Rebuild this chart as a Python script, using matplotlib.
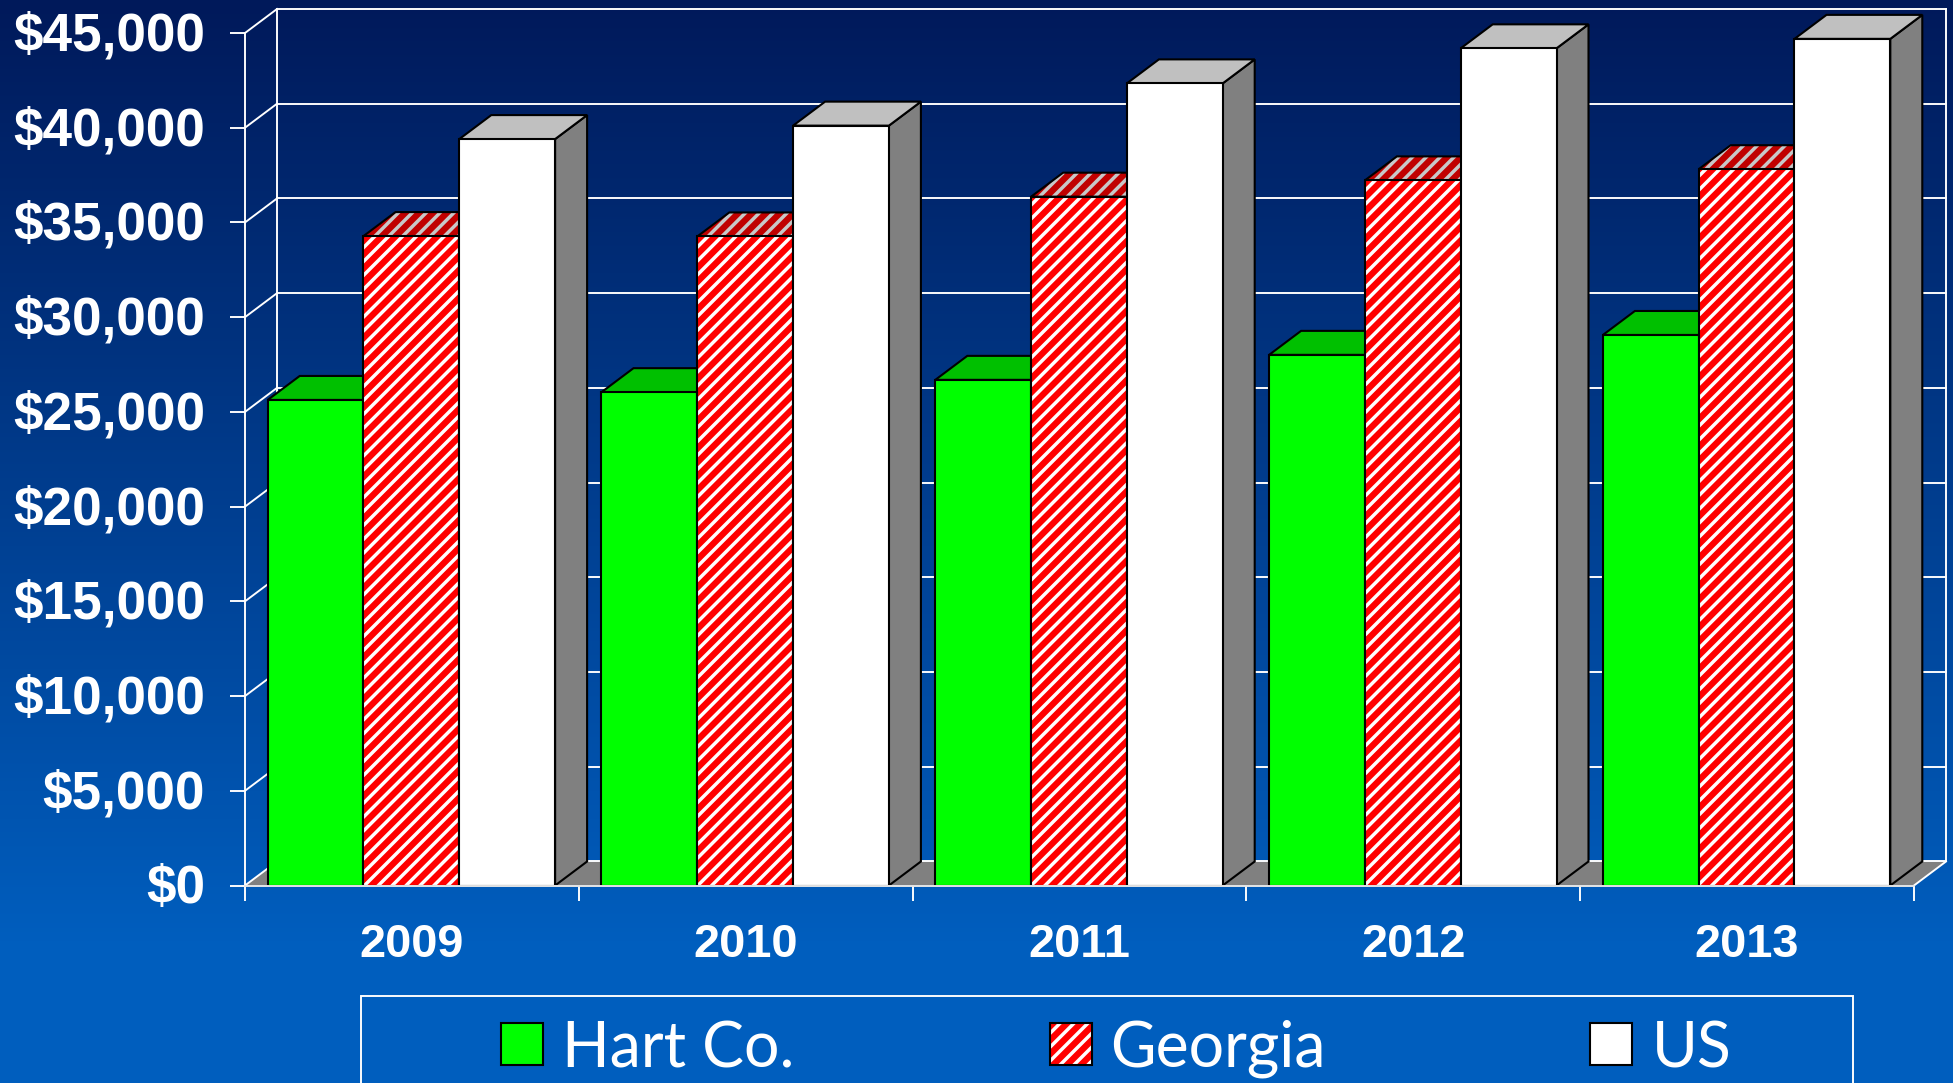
import numpy as np
import matplotlib
matplotlib.use("Agg")
import matplotlib.pyplot as plt
from matplotlib.patches import Rectangle
from matplotlib.transforms import ScaledTranslation

plt.rcParams["font.family"] = ["Liberation Sans", "DejaVu Sans"]
plt.rcParams["hatch.linewidth"] = 2.0

years = ["2009", "2010", "2011", "2012", "2013"]
series = ["Hart Co.", "Georgia", "US"]
hart = [25630, 26040, 26690, 28010, 29060]
georgia = [34280, 34260, 36360, 37220, 37810]
us = [39400, 40110, 42340, 44190, 44690]
y_ticks = [0, 5000, 10000, 15000, 20000, 25000, 30000, 35000, 40000, 45000]
y_labels = ["$0", "$5,000", "$10,000", "$15,000", "$20,000", "$25,000", "$30,000", "$35,000", "$40,000", "$45,000"]

W, H = 1953, 1083
DPI = 125

# look of each series: front, hatch, top, top hatch, side
styles = [
    ("#00FF00", None, "#00C000", None, "#00C000"),
    ("#FF0000", "#FFFFFF", "#C00000", "#C8C8C8", "#C00000"),
    ("#FFFFFF", None, "#C0C0C0", None, "#808080"),
]

# depth of the fake 3d box, in data units
dx = 32 / 333.8
dy = 1267
margin = 0.068
bar_w = 0.287

fig = plt.figure(figsize=(W / DPI, H / DPI), dpi=DPI)

# background gradient
bg = fig.add_axes([0, 0, 1, 1], zorder=-1)
top = np.array([0, 25, 90]) / 255
bottom = np.array([0, 94, 190]) / 255
t = np.clip(np.linspace(0, 1.15, H), 0, 1)[:, None, None]
bg.imshow(top + (bottom - top) * t, aspect="auto")
bg.axis("off")

ax = fig.add_axes([245 / W, 1 - 885.5 / H, (1914 - 245) / W, (885.5 - 33) / H])
ax.patch.set_alpha(0)
ax.set_xlim(0, 5)
ax.set_ylim(0, 45000)

# floor
ax.fill([0, 5, 5 + dx, dx], [0, 0, dy, dy], facecolor="#808080", edgecolor="none", clip_on=False, zorder=1)

# walls
for v in y_ticks:
    ax.plot([0, dx], [v, v + dy], color="white", lw=1.1, clip_on=False, zorder=2)
    ax.plot([dx, 5 + dx], [v + dy, v + dy], color="white", lw=1.1, clip_on=False, zorder=2)
ax.plot([dx, dx], [dy, 45000 + dy], color="white", lw=1.1, clip_on=False, zorder=2)
ax.plot([5 + dx, 5 + dx], [dy, 45000 + dy], color="white", lw=1.1, clip_on=False, zorder=2)
ax.plot([5, 5 + dx], [0, dy], color="white", lw=1.1, clip_on=False, zorder=2)

# bars, left to right so each one covers the previous
z = 3
for i in range(len(years)):
    for j, values in enumerate([hart, georgia, us]):
        front, front_h, top_c, top_h, side = styles[j]
        x0 = i + margin + j * bar_w
        x1 = x0 + bar_w
        v = values[i]
        side_x = [x1, x1 + dx, x1 + dx, x1]
        side_y = [0, dy, v + dy, v]
        top_x = [x0, x1, x1 + dx, x0 + dx]
        top_y = [v, v, v + dy, v + dy]
        ax.fill(side_x, side_y, facecolor=side, edgecolor="black", lw=1.2, clip_on=False, zorder=z)
        ax.fill(top_x, top_y, facecolor=top_c, edgecolor="none", lw=0, clip_on=False, zorder=z)
        if top_h:
            ax.fill(top_x, top_y, facecolor="none", edgecolor=top_h, hatch="///", lw=0, clip_on=False, zorder=z)
        ax.fill(top_x, top_y, facecolor="none", edgecolor="black", lw=1.2, clip_on=False, zorder=z)
        ax.bar(x0, v, bar_w, align="edge", color=front, lw=0, zorder=z)
        if front_h:
            ax.bar(x0, v, bar_w, align="edge", facecolor="none", edgecolor=front_h, hatch="///", lw=0, zorder=z)
        ax.bar(x0, v, bar_w, align="edge", facecolor="none", edgecolor="black", lw=1.2, zorder=z)
        z += 1

# axes
for s in ["top", "right"]:
    ax.spines[s].set_visible(False)
for s in ["left", "bottom"]:
    ax.spines[s].set_color("#E8E8E8")
    ax.spines[s].set_linewidth(1.1)
    ax.spines[s].set_zorder(z)
ax.spines["left"].set_color("white")
ax.spines["left"].set_zorder(2)

ax.set_yticks(y_ticks, y_labels)
ax.tick_params(axis="y", length=8.6, width=1.1, color="white", pad=14.5, labelcolor="white", labelsize=30.6)
up = ScaledTranslation(0, 2 / DPI, fig.dpi_scale_trans)
for lab in ax.get_yticklabels():
    lab.set_fontweight("bold")
    lab.set_transform(lab.get_transform() + up)
ax.set_xticks(range(6), [""] * 6)
ax.tick_params(axis="x", which="major", length=8.6, width=1.1, color="white")
ax.set_xticks(np.arange(5) + 0.5, years, minor=True)
ax.tick_params(axis="x", which="minor", length=0, pad=21.5, labelcolor="white", labelsize=27)
for lab in ax.get_xticklabels(minor=True):
    lab.set_fontweight("bold")

# legend box runs off the bottom of the slide
fig.add_artist(Rectangle((361 / W, 1 - 1110 / H), (1852.5 - 361) / W, (1110 - 996) / H, transform=fig.transFigure,
                         facecolor="none", edgecolor="white", lw=1.1))
swatch_x = [501, 1050, 1590]
text_x = [562, 1110, 1652]
for name, st, sx, tx in zip(series, styles, swatch_x, text_x):
    fig.add_artist(Rectangle((sx / W, 1 - 1065 / H), 42 / W, 42 / H, transform=fig.transFigure,
                             facecolor=st[0], edgecolor="none"))
    if st[1]:
        fig.add_artist(Rectangle((sx / W, 1 - 1065 / H), 42 / W, 42 / H, transform=fig.transFigure,
                                 facecolor="none", edgecolor=st[1], hatch="///", lw=0))
    fig.add_artist(Rectangle((sx / W, 1 - 1065 / H), 42 / W, 42 / H, transform=fig.transFigure,
                             facecolor="none", edgecolor="black", lw=1.2))
    # no narrow Arial here, Lato is the closest in width
    fig.text(tx / W, 1 - 1067 / H, name, color="white", fontsize=36, va="baseline", ha="left", family="Lato")

fig.savefig("out.png", dpi=DPI)
